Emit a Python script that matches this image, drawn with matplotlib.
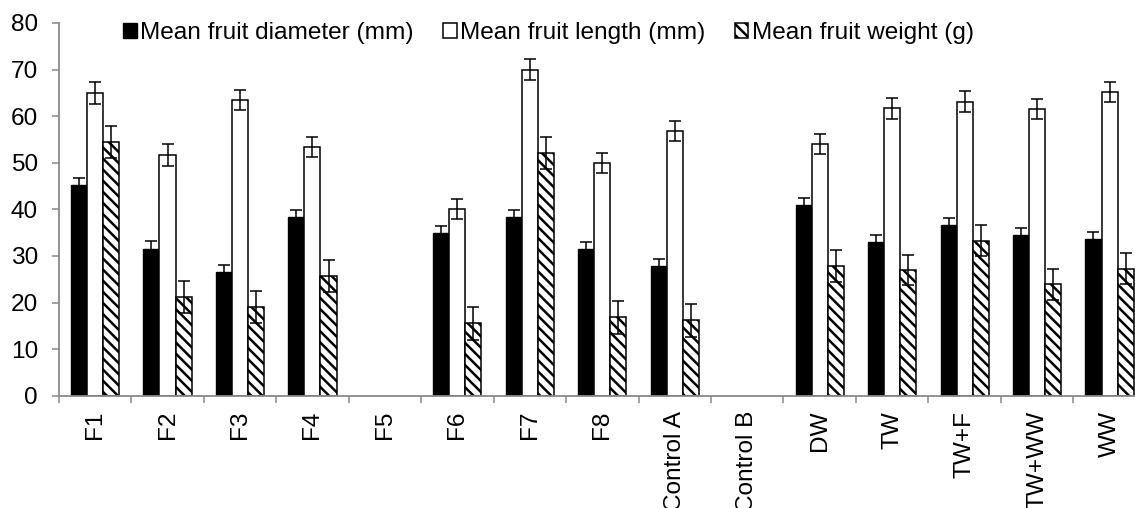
import numpy as np
import matplotlib
matplotlib.use("Agg")
import matplotlib.pyplot as plt

plt.rcParams["font.family"] = ["Liberation Sans", "DejaVu Sans"]
plt.rcParams["hatch.linewidth"] = 1.8

# Data
categories = ["F1", "F2", "F3", "F4", "F5", "F6", "F7", "F8", "Control A",
              "Control B", "DW", "TW", "TW+F", "TW+WW", "WW"]
nan = np.nan
diameter = [45.2, 31.5, 26.5, 38.3, nan, 35.0, 38.4, 31.5, 27.8, nan,
            40.9, 33.0, 36.6, 34.4, 33.6]
diameter_err = [1.6, 1.6, 1.6, 1.5, nan, 1.5, 1.5, 1.5, 1.5, nan,
                1.6, 1.6, 1.5, 1.5, 1.5]
length = [65.0, 51.7, 63.5, 53.4, nan, 40.1, 70.0, 50.0, 56.8, nan,
          54.0, 61.7, 63.1, 61.5, 65.2]
length_err = [2.3, 2.3, 2.2, 2.2, nan, 2.2, 2.3, 2.2, 2.2, nan,
              2.2, 2.2, 2.2, 2.2, 2.2]
weight = [54.4, 21.2, 19.1, 25.7, nan, 15.5, 52.1, 16.8, 16.2, nan,
          27.9, 27.0, 33.3, 23.9, 27.3]
weight_err = [3.4, 3.5, 3.4, 3.4, nan, 3.5, 3.5, 3.5, 3.5, nan,
              3.4, 3.3, 3.4, 3.4, 3.4]

W, H = 1135, 508
fs = 17.6
fig = plt.figure(figsize=(W / 100, H / 100), dpi=100)
ax = fig.add_axes([58.8 / W, 112.3 / H, 1087 / W, 372.7 / H])

x = np.arange(len(categories))
bw = 0.222
err_kw = dict(ecolor="black", elinewidth=1.1, capsize=4.5, capthick=1.1)

ax.bar(x - bw, diameter, bw, yerr=diameter_err, color="black",
       edgecolor="black", linewidth=1.0, error_kw=err_kw,
       label="Mean fruit diameter (mm)")
ax.bar(x, length, bw, yerr=length_err, color="white",
       edgecolor="black", linewidth=1.1, error_kw=err_kw,
       label="Mean fruit length (mm)")
ax.bar(x + bw, weight, bw, yerr=weight_err, color="white",
       edgecolor="black", linewidth=1.1, hatch="\\\\\\", error_kw=err_kw,
       label="Mean fruit weight (g)")

ax.set_xlim(-0.5, len(categories) - 0.5)
ax.set_ylim(0, 80)
ax.set_yticks(np.arange(0, 81, 10))
ax.set_xticks(x)
ax.set_xticklabels(categories, rotation=90, fontsize=fs)
ax.set_xticks(np.arange(-0.5, len(categories), 1), minor=True)
ax.tick_params(axis="x", which="major", length=0, pad=11)
ax.tick_params(axis="x", which="minor", length=5, width=1.1,
               color="#898989", direction="out")
ax.tick_params(axis="y", length=5, width=1.1, color="#898989",
               labelsize=fs, pad=10)

for side in ["top", "right"]:
    ax.spines[side].set_visible(False)
for side in ["left", "bottom"]:
    ax.spines[side].set_color("#898989")
    ax.spines[side].set_linewidth(1.3)

ax.legend(loc="center", bbox_to_anchor=(0.4505, 0.973), ncol=3,
          frameon=False, fontsize=fs, handlelength=0.55, handleheight=0.55,
          handletextpad=0.15, columnspacing=1.2, borderaxespad=0)

fig.savefig("out.png", dpi=100)
